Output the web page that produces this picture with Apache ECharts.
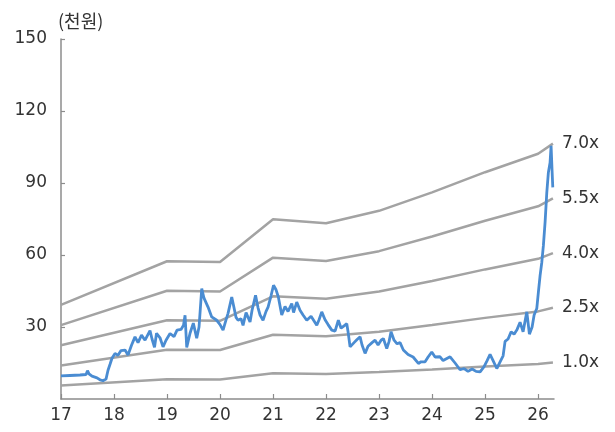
<!DOCTYPE html>
<html>
<head>
<meta charset="utf-8">
<script src="https://cdn.jsdelivr.net/npm/echarts@6/dist/echarts.min.js"></script>
<style>
  html, body { margin: 0; padding: 0; background: #fff; }
  #chart { width: 615px; height: 432px; }
</style>
</head>
<body>
<div id="chart"></div>
<script>
  // 연도 눈금
  var yearTicks = [17, 18, 19, 20, 21, 22, 23, 24, 25, 26];
  var yTicks = [0, 30, 60, 90, 120, 150];

  // PBR 밴드 (천원)
  var bandT = [17, 19, 20, 21, 22, 23, 24, 25, 26, 26.28];
  var band10 = [5.6, 8.2, 8.15, 10.7, 10.45, 11.2, 12.3, 13.5, 14.6, 15.2];
  var band25 = [14.0, 20.5, 20.4, 26.8, 26.1, 28.0, 30.8, 33.8, 36.5, 38.0];
  var band40 = [22.4, 32.8, 32.6, 42.8, 41.8, 44.8, 49.2, 54.0, 58.4, 60.8];
  var band55 = [30.8, 45.1, 44.8, 58.9, 57.5, 61.6, 67.7, 74.3, 80.3, 83.6];
  var band70 = [39.2, 57.4, 57.1, 74.9, 73.2, 78.4, 86.1, 94.5, 102.2, 106.4];
  var bandNames = ['1.0x', '2.5x', '4.0x', '5.5x', '7.0x'];

  // 주가 (천원)
  var priceT = [17.000, 17.170, 17.358, 17.472, 17.500, 17.528, 17.585, 17.679, 17.736, 17.792,
    17.849, 17.887, 17.925, 17.962, 18.019, 18.075, 18.132, 18.208, 18.264, 18.330,
    18.396, 18.453, 18.519, 18.585, 18.679, 18.717, 18.764, 18.802, 18.868, 18.925,
    18.981, 19.057, 19.132, 19.189, 19.264, 19.311, 19.340, 19.372, 19.434, 19.496,
    19.560, 19.604, 19.655, 19.698, 19.774, 19.843, 19.938, 20.000, 20.057, 20.113,
    20.151, 20.221, 20.245, 20.302, 20.340, 20.396, 20.434, 20.491, 20.566, 20.604,
    20.670, 20.717, 20.755, 20.811, 20.868, 20.906, 20.962, 21.009, 21.057, 21.100,
    21.164, 21.226, 21.283, 21.353, 21.387, 21.447, 21.509, 21.566, 21.636, 21.717,
    21.825, 21.868, 21.919, 21.981, 22.038, 22.108, 22.170, 22.232, 22.283, 22.340,
    22.391, 22.415, 22.453, 22.528, 22.585, 22.642, 22.679, 22.736, 22.792, 22.868,
    22.925, 22.981, 23.038, 23.081, 23.145, 23.189, 23.226, 23.283, 23.340, 23.396,
    23.458, 23.547, 23.642, 23.742, 23.792, 23.868, 23.925, 23.994, 24.057, 24.151,
    24.208, 24.245, 24.340, 24.434, 24.528, 24.604, 24.679, 24.755, 24.830, 24.906,
    24.981, 25.038, 25.094, 25.151, 25.221, 25.283, 25.340, 25.377, 25.434, 25.491,
    25.547, 25.604, 25.660, 25.717, 25.787, 25.836, 25.887, 25.925, 25.975, 26.006,
    26.038, 26.070, 26.100, 26.132, 26.164, 26.194, 26.226, 26.245, 26.264, 26.277];
  var priceV = [9.6, 9.8, 10.0, 10.2, 11.8, 10.5, 9.5, 8.8, 8.0, 7.6,
    8.3, 12.0, 14.5, 17.0, 19.0, 18.2, 20.2, 20.4, 18.3, 22.4,
    25.9, 23.5, 26.6, 24.5, 28.5, 25.0, 21.5, 27.4, 25.5, 21.7,
    24.5, 27.3, 26.0, 28.7, 29.0, 30.7, 34.9, 21.5, 27.4, 31.6,
    25.3, 30.0, 46.0, 42.0, 38.3, 34.2, 32.8, 31.0, 28.7, 33.0,
    35.7, 42.5, 40.0, 34.0, 32.8, 33.5, 30.7, 36.0, 32.1, 37.0,
    43.2, 38.0, 35.0, 32.8, 36.5, 38.3, 43.0, 47.4, 45.5, 42.5,
    35.0, 38.5, 36.5, 39.8, 36.0, 40.4, 37.0, 35.0, 32.8, 34.5,
    30.7, 33.0, 36.3, 33.0, 31.0, 28.7, 28.3, 32.8, 29.5, 30.5,
    31.4, 28.0, 21.7, 23.5, 24.8, 25.9, 22.5, 19.0, 22.0, 23.5,
    24.5, 22.5, 24.5, 25.2, 21.0, 24.0, 28.0, 24.5, 23.0, 23.5,
    20.4, 18.5, 17.5, 14.8, 15.5, 15.5, 17.5, 19.6, 17.5, 17.6,
    16.0, 15.5, 17.6, 15.0, 12.2, 12.7, 11.5, 12.5, 11.5, 11.3,
    13.5, 16.0, 18.6, 16.0, 12.7, 15.5, 18.0, 24.0, 25.0, 28.0,
    27.0, 29.0, 32.0, 28.0, 36.3, 27.0, 30.0, 35.0, 37.7, 44.6,
    51.5, 57.0, 64.0, 73.7, 86.0, 94.4, 98.6, 105.5, 95.0, 88.2];

  var FONT = '"DejaVu Sans", "Noto Sans CJK KR", sans-serif';
  var TEXT = '#333333';

  function zip(t, v) {
    return t.map(function (x, i) { return [x, v[i]]; });
  }

  function bandSeries(name, values) {
    return {
      name: name,
      type: 'line',
      data: zip(bandT, values),
      symbol: 'none',
      silent: true,
      lineStyle: { color: '#a3a3a3', width: 2.5 },
      endLabel: {
        show: true,
        formatter: name,
        distance: 9,
        color: TEXT,
        fontFamily: FONT,
        fontSize: 17
      },
      z: 2
    };
  }

  var chart = echarts.init(document.getElementById('chart'));
  var option = {
    animation: false,
    title: {
      text: '(천원)',
      left: 53,
      top: 7,
      textStyle: { color: TEXT, fontFamily: '"Noto Sans CJK KR", sans-serif', fontSize: 18, fontWeight: 'normal' }
    },
    grid: { left: 61, right: 61, top: 39, bottom: 33 },
    xAxis: {
      type: 'value',
      min: 17,
      max: 26.3,
      interval: 1,
      splitLine: { show: false },
      axisLine: { lineStyle: { color: '#8c8c8c', width: 1.5 } },
      axisTick: { inside: true, length: 5, customValues: yearTicks, lineStyle: { color: '#8c8c8c', width: 1.2 } },
      axisLabel: { customValues: yearTicks, margin: 8, color: TEXT, fontFamily: FONT, fontSize: 17 }
    },
    yAxis: {
      type: 'value',
      min: 0,
      max: 150,
      interval: 30,
      splitLine: { show: false },
      axisLine: { show: true, lineStyle: { color: '#8c8c8c', width: 1.5 } },
      axisTick: { show: true, inside: true, length: 4, customValues: yTicks, lineStyle: { color: '#8c8c8c', width: 1.2 } },
      axisLabel: { showMinLabel: false, margin: 14, color: TEXT, fontFamily: FONT, fontSize: 17 }
    },
    series: [
      bandSeries(bandNames[0], band10),
      bandSeries(bandNames[1], band25),
      bandSeries(bandNames[2], band40),
      bandSeries(bandNames[3], band55),
      bandSeries(bandNames[4], band70),
      {
        name: '주가',
        type: 'line',
        data: zip(priceT, priceV),
        symbol: 'none',
        lineStyle: { color: '#4a8cd2', width: 2.8 },
        z: 3
      }
    ]
  };
  chart.setOption(option);
</script>
</body>
</html>
